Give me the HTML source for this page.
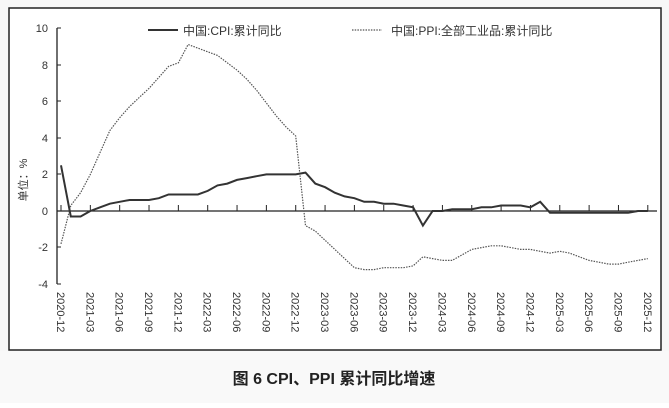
<!DOCTYPE html>
<html><head><meta charset="utf-8"><style>
body{margin:0;background:#fff;width:669px;height:403px;overflow:hidden;font-family:"Liberation Sans","Noto Sans CJK SC",sans-serif}
</style></head><body>
<svg id="s" width="669" height="403" xmlns="http://www.w3.org/2000/svg">
<rect x="0" y="0" width="669" height="403" fill="#f7f7f7"/>
<rect x="9" y="8" width="652" height="342" fill="#fff" stroke="#222" stroke-width="1.5"/>
<rect x="0" y="351" width="669" height="52" fill="#f9f9f9"/>
<g font-size="11" fill="#333" text-anchor="end">
<text x="48" y="32">10</text><text x="48" y="69">8</text><text x="48" y="105">6</text>
<text x="48" y="142">4</text><text x="48" y="178">2</text><text x="48" y="215">0</text>
<text x="48" y="251">-2</text><text x="48" y="288">-4</text>
</g>
<text transform="translate(27,180) rotate(-90)" font-size="11" fill="#333" text-anchor="middle">单位：%</text>
<line x1="57" y1="28" x2="57" y2="284" stroke="#222" stroke-width="1.3"/>
<g stroke="#222" stroke-width="1">
<line x1="57" y1="28" x2="61" y2="28"/><line x1="57" y1="65" x2="61" y2="65"/><line x1="57" y1="101" x2="61" y2="101"/><line x1="57" y1="138" x2="61" y2="138"/><line x1="57" y1="174" x2="61" y2="174"/><line x1="57" y1="247" x2="61" y2="247"/><line x1="57" y1="284" x2="61" y2="284"/>
</g>
<line x1="57" y1="211" x2="657" y2="211" stroke="#222" stroke-width="1.3"/>
<g id="ticks" stroke="#222" stroke-width="1"></g>
<g id="lbl" font-size="11" fill="#333"></g>
<polyline id="ppi" fill="none" stroke="#555" stroke-width="1.2" stroke-dasharray="1.5,1.2"/>
<polyline id="cpi" fill="none" stroke="#333" stroke-width="2"/>
<line x1="148" y1="30" x2="178" y2="30" stroke="#333" stroke-width="2"/>
<text x="183" y="35" font-size="12" fill="#333">中国:CPI:累计同比</text>
<line x1="352" y1="30" x2="382" y2="30" stroke="#555" stroke-width="1.2" stroke-dasharray="1.5,1.2"/>
<text x="391" y="35" font-size="12" fill="#333">中国:PPI:全部工业品:累计同比</text>
<text x="334" y="384" font-size="16" fill="#222" text-anchor="middle" font-weight="bold" font-family="Liberation Sans,Noto Sans CJK SC,sans-serif">图 6  CPI、PPI 累计同比增速</text>
</svg>
<script>
var cpi=[2.5,-0.3,-0.3,0,0.2,0.4,0.5,0.6,0.6,0.6,0.7,0.9,0.9,0.9,0.9,1.1,1.4,1.5,1.7,1.8,1.9,2.0,2.0,2.0,2.0,2.1,1.5,1.3,1.0,0.8,0.7,0.5,0.5,0.4,0.4,0.3,0.2,-0.8,0,0,0.1,0.1,0.1,0.2,0.2,0.3,0.3,0.3,0.2,0.5,-0.1,-0.1,-0.1,-0.1,-0.1,-0.1,-0.1,-0.1,-0.1,0.0,0.0];
var ppi=[-1.8,0.3,1.0,2.0,3.2,4.4,5.1,5.7,6.2,6.7,7.3,7.9,8.1,9.1,8.9,8.7,8.5,8.1,7.7,7.2,6.6,5.9,5.2,4.6,4.1,-0.8,-1.1,-1.6,-2.1,-2.6,-3.1,-3.2,-3.2,-3.1,-3.1,-3.1,-3.0,-2.5,-2.6,-2.7,-2.7,-2.4,-2.1,-2.0,-1.9,-1.9,-2.0,-2.1,-2.1,-2.2,-2.3,-2.2,-2.3,-2.5,-2.7,-2.8,-2.9,-2.9,-2.8,-2.7,-2.6];
function X(i){return 61+i*9.78}function Y(v){return 211-18.3*v}
function pts(a){return a.map(function(v,i){return X(i).toFixed(1)+","+Y(v).toFixed(1)}).join(" ")}
document.getElementById("cpi").setAttribute("points",pts(cpi));
document.getElementById("ppi").setAttribute("points",pts(ppi));
var ns="http://www.w3.org/2000/svg",t=document.getElementById("ticks"),l=document.getElementById("lbl");
var labs=["2020-12","2021-03","2021-06","2021-09","2021-12","2022-03","2022-06","2022-09","2022-12","2023-03","2023-06","2023-09","2023-12","2024-03","2024-06","2024-09","2024-12","2025-03","2025-06","2025-09","2025-12"];
for(var k=0;k<21;k++){var x=X(k*3);
var ln=document.createElementNS(ns,"line");ln.setAttribute("x1",x);ln.setAttribute("x2",x);ln.setAttribute("y1",205);ln.setAttribute("y2",211);t.appendChild(ln);
var tx=document.createElementNS(ns,"text");tx.setAttribute("transform","translate("+(x-4)+",292) rotate(90)");tx.textContent=labs[k];l.appendChild(tx);}
</script>
</body></html>
